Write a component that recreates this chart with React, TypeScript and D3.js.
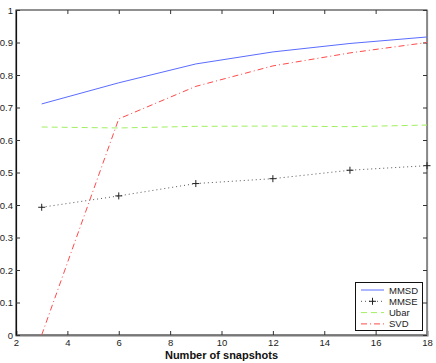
import React, { useEffect, useRef } from "react";
import * as d3 from "d3";

// snapshot counts on the x axis
const snapshots = [3, 6, 9, 12, 15, 18];
const mmsd = [0.711, 0.776, 0.834, 0.871, 0.897, 0.917];
const mmse = [0.393, 0.428, 0.466, 0.481, 0.507, 0.521];
const ubar = [0.64, 0.637, 0.642, 0.643, 0.641, 0.646];
const svd = [0.0, 0.665, 0.765, 0.828, 0.868, 0.9];

const xTicks = [2, 4, 6, 8, 10, 12, 14, 16, 18];
const yTicks = [0, 0.1, 0.2, 0.3, 0.4, 0.5, 0.6, 0.7, 0.8, 0.9, 1];

const series = [
  { name: "MMSD", values: mmsd, color: "#5a6cff", dash: "", marker: false },
  { name: "MMSE", values: mmse, color: "#555", dash: "1,3", marker: true },
  { name: "Ubar", values: ubar, color: "#a0f060", dash: "6,4", marker: false },
  { name: "SVD", values: svd, color: "#ff4a4a", dash: "6,3,1,3", marker: false },
];

const App = () => {
  const svgRef = useRef<SVGSVGElement>(null);

  useEffect(() => {
    const svg = d3.select(svgRef.current);
    svg.selectAll("*").remove();

    const left = 16;
    const right = 427;
    const top = 10;
    const bottom = 335;

    const x = d3.scaleLinear().domain([2, 18]).range([left, right]);
    const y = d3.scaleLinear().domain([0, 1]).range([bottom, top]);
    const font = "'Liberation Sans', Arial, sans-serif";

    // box
    svg
      .append("rect")
      .attr("x", left)
      .attr("y", top)
      .attr("width", right - left)
      .attr("height", bottom - top)
      .attr("fill", "#fff")
      .attr("stroke", "#222")
      .attr("stroke-width", 1);

    // inward ticks
    const xAxisB = d3.axisBottom(x).tickValues(xTicks).tickSize(-4).tickPadding(4).tickFormat(d3.format("d"));
    const gx = svg.append("g").attr("transform", `translate(0,${bottom})`).call(xAxisB);
    gx.select(".domain").attr("stroke", "#777").attr("stroke-width", 2);
    gx.selectAll("text").attr("font-family", font).attr("font-size", 9.5).attr("fill", "#222");

    const gxt = svg.append("g").attr("transform", `translate(0,${top})`).call(d3.axisTop(x).tickValues(xTicks).tickSize(-4).tickFormat(() => ""));
    gxt.select(".domain").remove();

    const yAxisL = d3.axisLeft(y).tickValues(yTicks).tickSize(-4).tickPadding(3).tickFormat((d) => String(d));
    const gy = svg.append("g").attr("transform", `translate(${left},0)`).call(yAxisL);
    gy.select(".domain").attr("stroke", "#111").attr("stroke-width", 1.2);
    gy.selectAll("text").attr("font-family", font).attr("font-size", 9.5).attr("fill", "#222");

    const gyr = svg.append("g").attr("transform", `translate(${right},0)`).call(d3.axisRight(y).tickValues(yTicks).tickSize(-4).tickFormat(() => ""));
    gyr.select(".domain").attr("stroke", "#888").attr("stroke-width", 1.2);

    svg.selectAll(".tick line").attr("stroke", "#333");

    const line = d3
      .line<number>()
      .x((_, i) => x(snapshots[i]))
      .y((d) => y(d));

    series.forEach((s) => {
      svg
        .append("path")
        .datum(s.values)
        .attr("d", line)
        .attr("fill", "none")
        .attr("stroke", s.color)
        .attr("stroke-width", 1)
        .attr("stroke-dasharray", s.dash || null);
      if (s.marker) {
        svg
          .selectAll(null)
          .data(s.values)
          .enter()
          .append("path")
          .attr("d", (d, i) => {
            const cx = x(snapshots[i]);
            const cy = y(d);
            return `M${cx - 3.5},${cy}H${cx + 3.5}M${cx},${cy - 3.5}V${cy + 3.5}`;
          })
          .attr("stroke", "#222")
          .attr("stroke-width", 1);
      }
    });

    // x label
    svg
      .append("text")
      .attr("x", (left + right) / 2)
      .attr("y", 359)
      .attr("text-anchor", "middle")
      .attr("font-family", font)
      .attr("font-weight", "bold")
      .attr("font-size", 11)
      .attr("fill", "#111")
      .text("Number of snapshots");

    // legend
    const lg = svg.append("g");
    lg.append("rect")
      .attr("x", 355.5)
      .attr("y", 282.5)
      .attr("width", 67)
      .attr("height", 48)
      .attr("fill", "#fff")
      .attr("stroke", "#111")
      .attr("stroke-width", 1);
    series.forEach((s, i) => {
      const ly = 290 + i * 11.3;
      lg.append("line")
        .attr("x1", 361)
        .attr("x2", 384)
        .attr("y1", ly)
        .attr("y2", ly)
        .attr("stroke", s.color)
        .attr("stroke-width", 1)
        .attr("stroke-dasharray", s.dash || null);
      if (s.marker) {
        lg.append("path")
          .attr("d", `M369,${ly}H376M372.5,${ly - 3.5}V${ly + 3.5}`)
          .attr("stroke", "#222");
      }
      lg.append("text")
        .attr("x", 389)
        .attr("y", ly + 3.5)
        .attr("font-family", font)
        .attr("font-size", 9.5)
        .attr("fill", "#222")
        .text(s.name);
    });
  }, []);

  return (
    <svg
      ref={svgRef}
      width={436}
      height={363}
      style={{ position: "absolute", left: 0, top: 0, background: "#fff" }}
    />
  );
};

export default App;
